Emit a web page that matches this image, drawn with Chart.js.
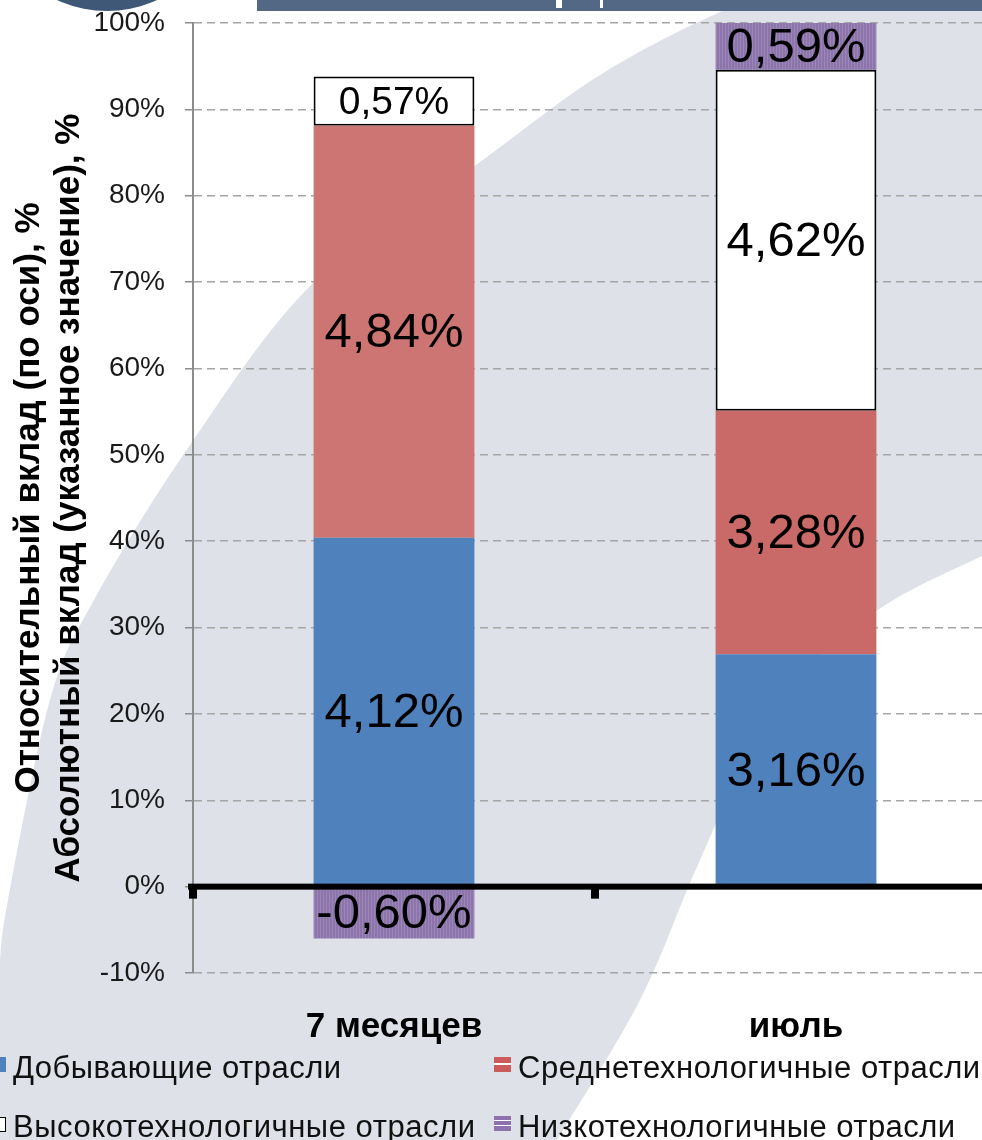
<!DOCTYPE html>
<html><head><meta charset="utf-8">
<script src="https://cdn.jsdelivr.net/npm/chart.js@4.4.1/dist/chart.umd.min.js"></script>
<style>
html,body{margin:0;padding:0;width:982px;height:1140px;overflow:hidden;background:#fff;}
#wrap{position:relative;width:982px;height:1140px;overflow:hidden;}
#c{position:absolute;left:0;top:0;}
.lg{position:absolute;font-family:"Liberation Sans",Arial,sans-serif;font-size:31px;color:#111;white-space:pre;line-height:31px;}
.mk{position:absolute;width:17px;height:15px;box-sizing:border-box;}
</style></head><body>
<div id="wrap">
<canvas id="c" width="1000" height="1140"></canvas>
</div>
<script>
// ---- data ----
const categories = ['7 месяцев', 'июль'];
const seriesNames = ['Добывающие отрасли', 'Среднетехнологичные отрасли', 'Высокотехнологичные отрасли', 'Низкотехнологичные отрасли'];
// relative contribution (axis), %
const shareDob  = [40.4, 26.9];
const shareSred = [47.7, 28.2];
const shareVys  = [5.7, 39.5];
const shareNiz  = [-6.0, 5.4];
// absolute contribution (label), %
const absDob  = [4.12, 3.16];
const absSred = [4.84, 3.28];
const absVys  = [0.57, 4.62];
const absNiz  = [-0.60, 0.59];
const yTitle = ['Относительный вклад (по оси), %', 'Абсолютный вклад (указанное значение), %'];

// ---- styles ----
const FONT = '"Liberation Sans", Arial, sans-serif';
const labelSizes = [[49, 49], [49, 49], [39, 49], [49, 49]];
const canvas = document.getElementById('c');
const mainCtx = canvas.getContext('2d');
function stripes(base, light) {
  const p = document.createElement('canvas'); p.width = 3; p.height = 4;
  const g = p.getContext('2d');
  g.fillStyle = base; g.fillRect(0, 0, 3, 4);
  g.fillStyle = light; g.fillRect(2, 0, 1, 4);
  return mainCtx.createPattern(p, 'repeat');
}
const purpleFill = stripes('#8d74ab', '#9a86b7');

// Catmull-Rom curve through points (first point must be current position)
function spline(ctx, pts) {
  for (let i = 0; i < pts.length - 1; i++) {
    const p0 = pts[Math.max(i - 1, 0)], p1 = pts[i], p2 = pts[i + 1], p3 = pts[Math.min(i + 2, pts.length - 1)];
    ctx.bezierCurveTo(
      p1[0] + (p2[0] - p0[0]) / 6, p1[1] + (p2[1] - p0[1]) / 6,
      p2[0] - (p3[0] - p1[0]) / 6, p2[1] - (p3[1] - p1[1]) / 6,
      p2[0], p2[1]);
  }
}

const bgPlugin = {
  id: 'bg',
  beforeDraw(chart) {
    const ctx = chart.ctx;
    ctx.save();
    ctx.fillStyle = '#fff';
    ctx.fillRect(0, 0, chart.width, chart.height);
    ctx.fillStyle = '#dee1e7';
    ctx.beginPath();
    ctx.moveTo(0, 1140);
    ctx.lineTo(0, 960);
    spline(ctx, [[0, 960], [8, 900], [50, 700], [94, 600], [190, 445], [314, 282], [476, 165], [600, 75], [720, 12], [800, -15]]);
    ctx.lineTo(1000, -15);
    ctx.lineTo(1000, 548);
    spline(ctx, [[1000, 548], [982, 556], [875, 612], [775, 705], [700, 860], [640, 1000], [557, 1140]]);
    ctx.closePath();
    ctx.fill();
    // header decorations
    ctx.fillStyle = '#3f5878';
    ctx.beginPath(); ctx.arc(107, -108, 119, 0, Math.PI * 2); ctx.fill();
    ctx.fillStyle = '#536885';
    ctx.fillRect(257, 0, 760, 11);
    ctx.fillStyle = '#fff';
    ctx.fillRect(556, 0, 6, 8);
    ctx.fillRect(600, 0, 3, 8);
    ctx.restore();
  }
};

const zeroPlugin = {
  id: 'zero',
  afterDatasetsDraw(chart) {
    const { ctx, scales: { x, y }, chartArea } = chart;
    const y0 = y.getPixelForValue(0);
    ctx.save();
    ctx.fillStyle = '#000';
    ctx.fillRect(chartArea.left - 5, y0 - 3, chartArea.right - chartArea.left + 10, 6);
    const half = (x.getPixelForValue(1) - x.getPixelForValue(0)) / 2;
    for (let i = 0; i < categories.length; i++) {
      const xb = x.getPixelForValue(i) - half;
      ctx.fillRect(xb - 4, y0, 8, 12);
    }
    ctx.restore();
  }
};

const absAll = [absDob, absSred, absVys, absNiz];
const labelPlugin = {
  id: 'vals',
  afterDatasetsDraw(chart) {
    const ctx = chart.ctx;
    ctx.save();
    ctx.fillStyle = '#000';
    ctx.textAlign = 'center';
    ctx.textBaseline = 'middle';
    absAll.forEach((arr, d) => {
      const meta = chart.getDatasetMeta(d);
      meta.data.forEach((el, i) => {
        const c = el.getCenterPoint();
        ctx.font = labelSizes[d][i] + 'px ' + FONT;
        ctx.fillText(arr[i].toFixed(2).replace('.', ',') + '%', c.x, c.y + 2);
      });
    });
    ctx.restore();
  }
};

new Chart(canvas, {
  type: 'bar',
  data: {
    labels: categories,
    datasets: [
      { label: seriesNames[0], data: shareDob, backgroundColor: '#4f81bd' },
      { label: seriesNames[1], data: shareSred, backgroundColor: ['#cd7572', '#ca6a68'] },
      { label: seriesNames[2], data: shareVys, backgroundColor: '#ffffff', borderColor: '#000', borderWidth: 2, borderSkipped: false },
      { label: seriesNames[3], data: shareNiz, backgroundColor: purpleFill }
    ]
  },
  options: {
    responsive: false, animation: false, devicePixelRatio: 1,
    layout: { padding: { top: 23, right: 3, left: 0, bottom: 0 } },
    datasets: { bar: { barPercentage: 0.4, categoryPercentage: 1 } },
    plugins: { legend: { display: false }, tooltip: { enabled: false } },
    scales: {
      x: {
        stacked: true,
        grid: { display: false, drawTicks: false },
        border: { display: false },
        ticks: { font: { family: FONT, size: 35, weight: 'bold' }, color: '#000', padding: 33, maxRotation: 0 },
        afterFit: s => { s.height = 167; s.paddingLeft = 0; s.paddingRight = 0; }
      },
      y: {
        stacked: true, min: -10, max: 100,
        ticks: { stepSize: 10, callback: v => v + '%', font: { family: FONT, size: 28 }, color: '#1a1a1a', padding: 20 },
        grid: { color: '#a6a6a6', lineWidth: 1.5, tickLength: 8, tickColor: '#8c8c8c', tickWidth: 1.5 },
        border: { display: true, color: '#8c8c8c', width: 2, dash: [8, 5] },
        title: { display: true, text: yTitle, font: { family: FONT, size: 35, weight: 'bold', lineHeight: '40px' }, color: '#000', padding: { top: 9, bottom: 0 } },
        afterFit: s => { s.width = 193; s.paddingTop = 0; s.paddingBottom = 0; }
      }
    }
  },
  plugins: [bgPlugin, zeroPlugin, labelPlugin]
});

// ---- legend (HTML, real text) ----
const legendPos = [
  { x: 13, y: 1052, w: 328, mx: -11, my: 1057 },
  { x: 518, y: 1052, w: 462, mx: 494, my: 1057 },
  { x: 13, y: 1111, w: 462, mx: -11, my: 1117 },
  { x: 518, y: 1111, w: 437, mx: 494, my: 1116 }
];
const markerStyles = [
  'background:#4f81bd',
  'background:linear-gradient(#cb5c5a 0 6px,#fff 6px 8px,#cb5c5a 8px)',
  'background:#fff;border:1.5px solid #000',
  'background:linear-gradient(#8e72ad 0 4px,#fff 4px 5px,#8e72ad 5px 9px,#fff 9px 10px,#8e72ad 10px)'
];
const wrap = document.getElementById('wrap');
seriesNames.forEach((name, i) => {
  const p = legendPos[i];
  const m = document.createElement('div');
  m.className = 'mk';
  m.style.cssText = 'left:' + p.mx + 'px;top:' + p.my + 'px;' + markerStyles[i];
  wrap.appendChild(m);
  const t = document.createElement('div');
  t.className = 'lg';
  t.style.left = p.x + 'px'; t.style.top = p.y + 'px';
  t.textContent = name;
  wrap.appendChild(t);
  const w = t.getBoundingClientRect().width;
  t.style.letterSpacing = ((p.w - w) / (name.length - 1)).toFixed(2) + 'px';
});
</script>
</body></html>
